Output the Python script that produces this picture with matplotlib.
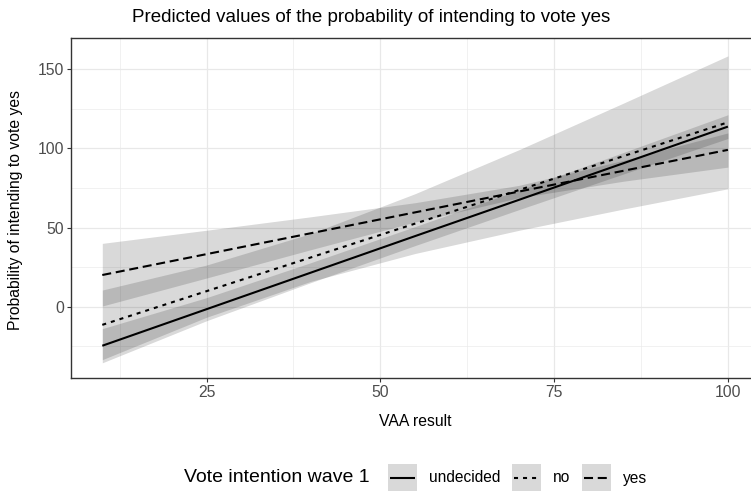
import matplotlib
matplotlib.use("Agg")
import matplotlib.pyplot as plt
from matplotlib.patches import Rectangle
from matplotlib.lines import Line2D

plt.rcParams['font.family'] = ['Liberation Sans', 'DejaVu Sans']
plt.rcParams['lines.scale_dashes'] = False

# ---- data ----
vaa = [10, 25, 40, 55, 70, 85, 100]

undecided_fit = [-24.7, -1.6, 21.5, 44.6, 67.6, 90.7, 113.8]
undecided_lo = [-35.5, -8.9, 15.2, 38.6, 61.4, 83.9, 106.3]
undecided_hi = [-13.9, 5.7, 27.8, 50.6, 73.8, 97.5, 121.3]

no_fit = [-11.5, 9.8, 31.1, 52.5, 73.8, 95.2, 116.5]
no_lo = [-33.5, -6.7, 16.0, 33.6, 48.3, 61.7, 74.5]
no_hi = [10.5, 26.3, 46.2, 71.4, 99.3, 128.7, 158.5]

yes_fit = [20.0, 33.2, 46.4, 59.6, 72.8, 85.9, 99.1]
yes_lo = [0.4, 18.1, 36.0, 53.5, 68.9, 79.3, 88.2]
yes_hi = [40.0, 48.3, 56.8, 65.7, 76.7, 92.5, 109.8]

groups = ["undecided", "no", "yes"]
x_ticks = [25, 50, 75, 100]
y_ticks = [0, 50, 100, 150]

W, H = 751, 491
fig = plt.figure(figsize=(W / 100, H / 100), dpi=100)
left, right, top, bottom = 71, 759.2, 38, 377.7
ax = fig.add_axes([left / W, 1 - bottom / H, (right - left) / W, (bottom - top) / H])

styles = {
    "undecided": dict(linestyle="-"),
    "no": dict(linestyle=(0, (2.9, 3.6))),
    "yes": dict(linestyle=(0, (6.5, 3.4))),
}
fits = {"undecided": undecided_fit, "no": no_fit, "yes": yes_fit}
los = {"undecided": undecided_lo, "no": no_lo, "yes": yes_lo}
his = {"undecided": undecided_hi, "no": no_hi, "yes": yes_hi}

for g in groups:
    ax.fill_between(vaa, los[g], his[g], color="black", alpha=0.15, linewidth=0, zorder=2)
for g in groups:
    ax.plot(vaa, fits[g], color="black", linewidth=1.5, solid_capstyle="butt",
            dash_capstyle="butt", zorder=3, **styles[g])

ax.set_xlim(5.5, 104.5)
ax.set_ylim(-44.9, 169.8)
ax.set_xticks(x_ticks)
ax.set_yticks(y_ticks)
ax.set_xticks([12.5, 37.5, 62.5, 87.5], minor=True)
ax.set_yticks([-25, 25, 75, 125], minor=True)
ax.grid(which="major", color="#E8E8E8", linewidth=0.9)
ax.grid(which="minor", color="#EBEBEB", linewidth=0.5)
ax.set_axisbelow(True)
ax.tick_params(which="minor", length=0)
ax.tick_params(which="major", length=2.8, width=0.8, color="#333333",
               labelsize=11.3, labelcolor="#4D4D4D", pad=2.2)
for s in ax.spines.values():
    s.set_color("#333333")
    s.set_linewidth(1.0)

fig.text(371.5 / W, 1 - 17 / H, "Predicted values of the probability of intending to vote yes",
         ha="center", va="center", fontsize=13.5)
fig.text(415 / W, 1 - 421 / H, "VAA result", ha="center", va="center", fontsize=11.3)
fig.text(16 / W, 1 - 210 / H, "Probability of intending to vote yes", ha="center",
         va="center", rotation=90, fontsize=11.3)

# ---- legend (bottom) ----
ly = 478
fig.text(184 / W, 1 - ly / H, "Vote intention wave 1", ha="left", va="center", fontsize=14)
keys = [(388, "undecided", 429), (512, "no", 553), (582, "yes", 623)]
for kx, g, tx in keys:
    fig.add_artist(Rectangle((kx / W, 1 - 492 / H), 29 / W, 28 / H,
                             transform=fig.transFigure, facecolor="#D9D9D9",
                             edgecolor="none"))
    fig.add_artist(Line2D([(kx + 2) / W, (kx + 27) / W], [1 - ly / H, 1 - ly / H],
                          transform=fig.transFigure, color="black", linewidth=1.5,
                          solid_capstyle="butt", dash_capstyle="butt", **styles[g]))
    fig.text(tx / W, 1 - ly / H, g, ha="left", va="center", fontsize=11.2)

fig.savefig("out.png", dpi=100)
